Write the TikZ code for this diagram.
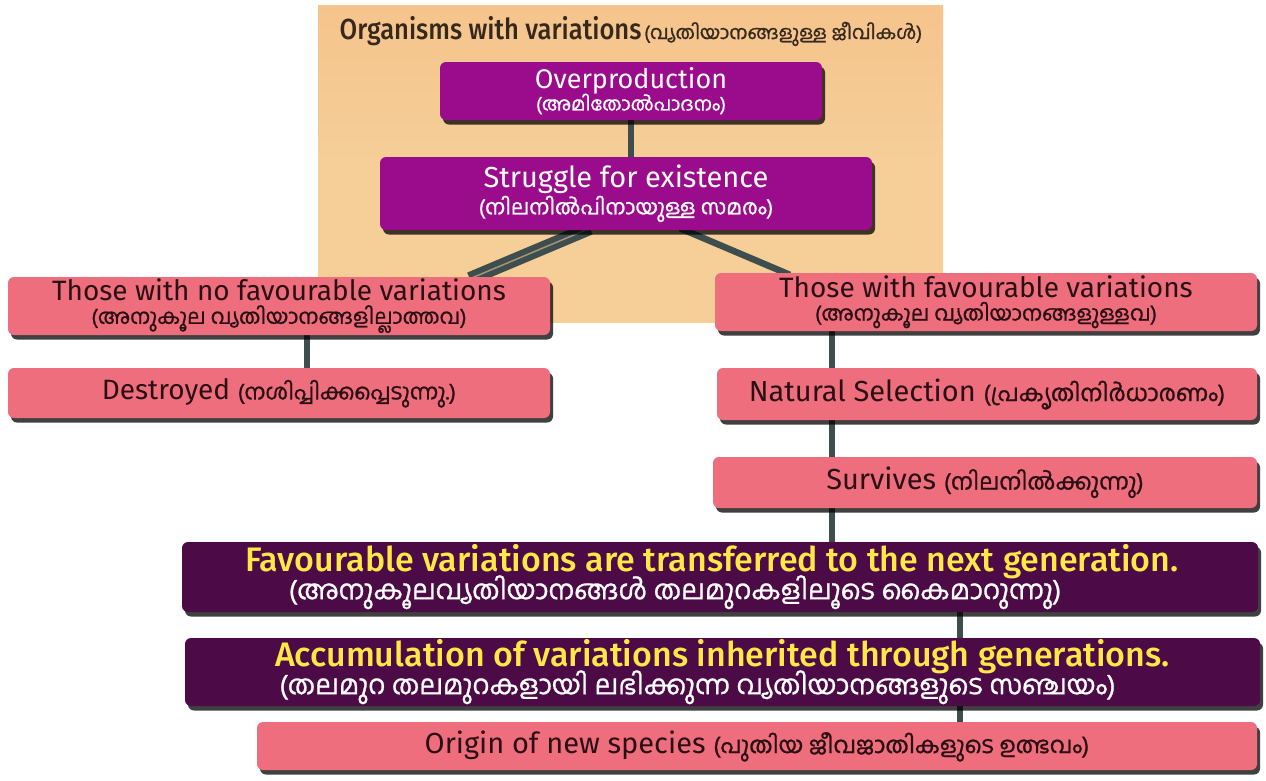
\documentclass[tikz,border=0pt]{standalone}
\usepackage{fontspec}
\usepackage{graphicx}
\setmainfont{Fira Sans}
\newfontfamily\medfont{Fira Sans Medium}
\newfontfamily\mlfont[Script=Malayalam, FakeBold=1]{Hind Kochi}
\usetikzlibrary{shadows,calc}
\definecolor{tanbg}{RGB}{245,206,152}
\definecolor{tantop}{RGB}{245,196,140}
\definecolor{magbox}{RGB}{155,12,140}
\definecolor{pinkbox}{RGB}{239,110,125}
\definecolor{darkbox}{RGB}{76,10,70}
\definecolor{connc}{RGB}{62,78,78}
\definecolor{darktxt}{RGB}{42,16,20}
\definecolor{titletxt}{RGB}{55,40,30}
\definecolor{yellowtxt}{RGB}{255,232,70}
\pgfdeclarelayer{bg}
\pgfdeclarelayer{edges}
\pgfsetlayers{bg,edges,main}
\tikzset{
  boxbase/.style={rectangle, rounded corners=6pt, inner sep=0pt, align=center,
    drop shadow={shadow xshift=3pt, shadow yshift=-4.5pt, fill=black, opacity=0.75}},
  magstyle/.style={boxbase, fill=magbox, text=white},
  pinkstyle/.style={boxbase, fill=pinkbox, text=darktxt},
  darkstyle/.style={boxbase, fill=darkbox, text=white},
  conn/.style={draw=connc, line width=6.5pt},
  dconn/.style={draw=connc, line width=6pt, double=tanbg!55!connc, double distance=1.5pt},
}
\newcommand{\entext}[2]{{\fontsize{#1}{#1}\selectfont #2}}
\newcommand{\mltext}[2]{{\mlfont\fontsize{#1}{#1}\selectfont #2}}
\begin{document}
\begin{tikzpicture}[x=1pt,y=-1pt]
\useasboundingbox (0,0) rectangle (1266,780);

\begin{pgfonlayer}{bg}
\fill[white] (0,0) rectangle (1266,780);
\node[rectangle, top color=tantop, bottom color=tanbg, middle color=tanbg, shading angle=0, minimum width=625pt, minimum height=317pt, inner sep=0pt] (panel) at (630.5,163.5) {};
\end{pgfonlayer}
\node[text=titletxt, inner sep=0pt] (title) at (631,31)
  {\scalebox{0.88}[1]{\medfont\entext{29}{Organisms with variations}}\ \mltext{19}{(വ്യതിയാനങ്ങളുള്ള ജീവികൾ)}};

% boxes
\node[magstyle, minimum width=382pt, minimum height=58pt] (over) at (631,91)
  {\entext{27}{Overproduction}\\[-2pt]\mltext{19}{(അമിതോൽപാദനം)}};
\node[magstyle, minimum width=492pt, minimum height=73pt] (strug) at (626,193.5)
  {\entext{29}{Struggle for existence}\\[1pt]\mltext{21}{(നിലനിൽപിനായുള്ള സമരം)}};
\node[pinkstyle, minimum width=542pt, minimum height=58pt] (nofav) at (279,306)
  {\entext{28}{Those with no favourable variations}\\[3pt]\mltext{21}{(അനുകൂല വ്യതിയാനങ്ങളില്ലാത്തവ)}};
\node[pinkstyle, minimum width=542pt, minimum height=50pt] (dest) at (279,393)
  {\entext{28}{Destroyed }\mltext{22}{(നശിപ്പിക്കപ്പെടുന്നു.)}};
\node[pinkstyle, minimum width=542pt, minimum height=58pt] (fav) at (986,302)
  {\entext{28}{Those with favourable variations}\\[3pt]\mltext{21}{(അനുകൂല വ്യതിയാനങ്ങളുള്ളവ)}};
\node[pinkstyle, minimum width=540pt, minimum height=52pt] (nat) at (987,394)
  {\entext{29}{Natural Selection }\mltext{23}{(പ്രകൃതിനിർധാരണം)}};
\node[pinkstyle, minimum width=544pt, minimum height=51pt] (surv) at (985,482.5)
  {\entext{29}{Survives }\mltext{23}{(നിലനിൽക്കുന്നു)}};
\node[darkstyle, minimum width=1076pt, minimum height=70pt] (transf) at (720,577)
  {\textcolor{yellowtxt}{\medfont\entext{34}{Favourable variations are transferred to the next generation.}}\hspace*{16pt}\\[-5pt]\mltext{27}{(അനുകൂലവ്യതിയാനങ്ങൾ തലമുറകളിലൂടെ കൈമാറുന്നു)}\hspace*{90pt}};
\node[darkstyle, minimum width=1075pt, minimum height=68pt] (accum) at (722.5,672)
  {\textcolor{yellowtxt}{\medfont\entext{34}{Accumulation of variations inherited through generations.}}\\[-5pt]\mltext{27}{(തലമുറ തലമുറകളായി ലഭിക്കുന്ന വ്യതിയാനങ്ങളുടെ സഞ്ചയം)}\hspace*{50pt}};
\node[pinkstyle, minimum width=1000pt, minimum height=48pt] (origin) at (757,746)
  {\entext{29}{Origin of new species }\mltext{23}{(പുതിയ ജീവജാതികളുടെ ഉത്ഭവം)}};

% connector guide coordinates
\coordinate (lx) at (307,0);
\coordinate (rx) at (832,0);
\coordinate (bx) at (960,0);

\begin{pgfonlayer}{edges}
\draw[conn] (over.south) -- (over.south |- strug.north);
\draw[dconn] ($(strug.south)+(-36,-2)$) -- ($(nofav.north west)+(462,2)$);
\draw[conn] ($(strug.south)+(54,-2)$) -- ($(fav.north west)+(75,2)$);
\draw[conn] (lx |- nofav.south) -- (lx |- dest.north);
\draw[conn] (rx |- fav.south) -- (rx |- nat.north);
\draw[conn] (rx |- nat.south) -- (rx |- surv.north);
\draw[conn] (rx |- surv.south) -- (rx |- transf.north);
\draw[conn] (bx |- transf.south) -- (bx |- accum.north);
\draw[conn] (bx |- accum.south) -- (bx |- origin.north);
\end{pgfonlayer}
\end{tikzpicture}
\end{document}
